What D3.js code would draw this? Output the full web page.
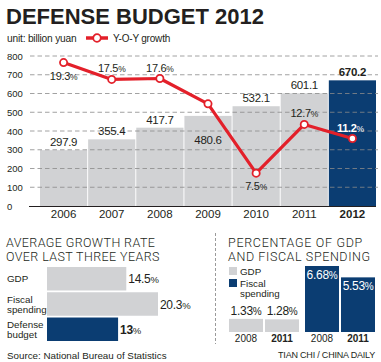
<!DOCTYPE html>
<html>
<head>
<meta charset="utf-8">
<script src="https://cdn.jsdelivr.net/npm/d3@7"></script>
<style>
  body { margin: 0; background: #fff; }
  svg { display: block; font-family: "Liberation Sans", Arial, sans-serif; }
</style>
</head>
<body>
<svg id="chart" width="381" height="362"></svg>
<script>
"use strict";

// main chart
var years = ["2006", "2007", "2008", "2009", "2010", "2011", "2012"],
    budget = [297.9, 355.4, 417.7, 480.6, 532.1, 601.1, 670.2],
    growth = [19.3, 17.5, 17.6, 14.9, 7.5, 12.7, 11.2],
    growthLabels = ["19.3", "17.5", "17.6", "", "7.5", "12.7", "11.2"],
    yTicks = [0, 100, 200, 300, 400, 500, 600, 700, 800];

// average growth rate panel
var avgCats = ["GDP", "Fiscal spending", "Defense budget"],
    avgValues = [14.5, 20.3, 13];

// percentage panel
var pctGroups = ["GDP", "Fiscal spending"],
    pctYears = ["2008", "2011"],
    pctGDP = [1.33, 1.28],
    pctFiscal = [6.68, 5.53];

var GREY = "#d1d2d4",
    NAVY = "#0b3d72",
    RED = "#e3202a",
    INK = "#231f20";

var svg = d3.select("#chart");

// title
svg.append("text")
    .attr("x", 6).attr("y", 24)
    .attr("font-size", 22).attr("font-weight", 900)
    .attr("fill", INK)
    .text("DEFENSE BUDGET 2012");

svg.append("text")
    .attr("x", 7).attr("y", 42)
    .attr("font-size", 10.2).attr("letter-spacing", -0.2).attr("fill", INK)
    .text("unit: billion yuan");

// legend for the line
var lg = svg.append("g").attr("transform", "translate(86,38)");
lg.append("line").attr("x1", 0).attr("x2", 22)
    .attr("stroke", RED).attr("stroke-width", 3.5);
lg.append("circle").attr("cx", 11).attr("r", 3.8)
    .attr("fill", "#fff").attr("stroke", RED).attr("stroke-width", 1.8);
lg.append("text").attr("x", 27).attr("y", 4)
    .attr("font-size", 10).attr("letter-spacing", -0.2).attr("fill", INK)
    .text("Y-O-Y growth");

var x = d3.scaleBand().domain(years).range([40, 376]).paddingInner(0.02),
    y = d3.scaleLinear().domain([0, 800]).range([206, 56]),
    gy = d3.scaleLinear().domain([4, 20]).range([y(0), y(800)]);

function cx(i) { return x(years[i]) + x.bandwidth() / 2; }

// y labels
svg.append("g").selectAll("text")
    .data(yTicks)
    .join("text")
    .attr("x", 7).attr("y", function (d) { return y(d) + 3.5; })
    .attr("font-size", 9.5).attr("fill", INK)
    .text(function (d) { return d; });

// bars
svg.append("g").selectAll("rect")
    .data(budget)
    .join("rect")
    .attr("x", function (d, i) { return x(years[i]); })
    .attr("y", function (d) { return y(d); })
    .attr("width", x.bandwidth())
    .attr("height", function (d) { return y(0) - y(d); })
    .attr("fill", function (d, i) { return i === years.length - 1 ? NAVY : GREY; });

// dashed grid on top of bars
svg.append("g").selectAll("line")
    .data(yTicks.filter(function (d) { return d > 0; }))
    .join("line")
    .attr("x1", 30).attr("x2", 378)
    .attr("y1", function (d) { return y(d); })
    .attr("y2", function (d) { return y(d); })
    .attr("stroke", "#8a8a8a").attr("stroke-width", 0.8)
    .attr("stroke-dasharray", "4.5,3");

svg.append("line")
    .attr("x1", 29).attr("x2", 376)
    .attr("y1", y(0) + 0.5).attr("y2", y(0) + 0.5)
    .attr("stroke", INK).attr("stroke-width", 1.2);

// year labels
svg.append("g").selectAll("text")
    .data(years)
    .join("text")
    .attr("x", function (d, i) { return cx(i); })
    .attr("y", 218)
    .attr("text-anchor", "middle")
    .attr("font-size", 11.5)
    .attr("font-weight", function (d, i) { return i === years.length - 1 ? "bold" : "normal"; })
    .attr("fill", INK)
    .text(function (d) { return d; });

// budget value labels (2009 sits inside the bar, under the line)
svg.append("g").selectAll("text")
    .data(budget)
    .join("text")
    .attr("x", function (d, i) { return cx(i); })
    .attr("y", function (d, i) { return i === 3 ? y(d) + 28 : y(d) - 4; })
    .attr("text-anchor", "middle")
    .attr("font-size", 11.5)
    .attr("letter-spacing", -0.3)
    .attr("font-weight", function (d, i) { return i === years.length - 1 ? "bold" : "normal"; })
    .attr("fill", INK)
    .text(function (d) { return d.toFixed(1); });

// growth line
var line = d3.line()
    .x(function (d, i) { return cx(i); })
    .y(function (d) { return gy(d); });

svg.append("path")
    .datum(growth)
    .attr("d", line)
    .attr("fill", "none")
    .attr("stroke", RED)
    .attr("stroke-width", 3.2)
    .attr("stroke-linejoin", "round");

svg.append("g").selectAll("circle")
    .data(growth)
    .join("circle")
    .attr("cx", function (d, i) { return cx(i); })
    .attr("cy", function (d) { return gy(d); })
    .attr("r", 3.6)
    .attr("fill", "#fff")
    .attr("stroke", RED)
    .attr("stroke-width", 1.8);

// growth labels (2009 has none in the original)
var below = [true, false, false, false, true, false, false];
var labelled = growth.map(function (g, i) { return { g: g, i: i }; })
    .filter(function (d) { return growthLabels[d.i] !== ""; });

svg.append("g").selectAll("text")
    .data(labelled)
    .join("text")
    .attr("x", function (d) { return cx(d.i) - (d.i === 6 ? 2 : 0); })
    .attr("y", function (d) { return below[d.i] ? gy(d.g) + 17 : gy(d.g) - 7; })
    .attr("text-anchor", "middle")
    .attr("font-size", 11)
    .attr("letter-spacing", -0.3)
    .attr("font-weight", function (d) { return d.i === 6 ? "bold" : "normal"; })
    .attr("fill", function (d) { return d.i === 6 ? "#fff" : INK; })
    .each(function (d) {
        var t = d3.select(this);
        t.append("tspan").text(growthLabels[d.i]);
        t.append("tspan").attr("font-size", 8.5).attr("font-weight", "normal").text("%");
    });

// divider
svg.append("line")
    .attr("x1", 215.5).attr("x2", 215.5)
    .attr("y1", 233).attr("y2", 344)
    .attr("stroke", "#9a9a9a").attr("stroke-dasharray", "3,2");

// ---- panel headings
var head = svg.append("g")
    .attr("font-family", "Roboto, 'Liberation Sans', sans-serif")
    .attr("font-weight", 300)
    .attr("font-size", 12.5)
    .attr("letter-spacing", 0.4)
    .attr("fill", INK);
head.append("text").attr("x", 6).attr("y", 247).text("AVERAGE GROWTH RATE");
head.append("text").attr("x", 6).attr("y", 261).text("OVER LAST THREE YEARS");
head.append("text").attr("x", 228).attr("y", 247).attr("letter-spacing", 0.7).text("PERCENTAGE OF GDP");
head.append("text").attr("x", 228).attr("y", 261).attr("letter-spacing", 0.6).text("AND FISCAL SPENDING");

// ---- average growth rate panel
var ay = d3.scaleBand().domain(avgCats).range([267, 341]).paddingInner(0.07),
    ax = d3.scaleLinear().domain([0, 20.3]).range([47, 158]);

svg.append("g").selectAll("rect")
    .data(avgValues)
    .join("rect")
    .attr("x", ax(0))
    .attr("y", function (d, i) { return ay(avgCats[i]); })
    .attr("width", function (d) { return ax(d) - ax(0); })
    .attr("height", ay.bandwidth())
    .attr("fill", function (d, i) { return i === 2 ? NAVY : GREY; });

var av = svg.append("g").selectAll("text")
    .data(avgValues)
    .join("text")
    .attr("x", function (d) { return ax(d) + 2; })
    .attr("y", function (d, i) { return ay(avgCats[i]) + ay.bandwidth() / 2 + 4.5; })
    .attr("font-size", 12)
    .attr("letter-spacing", -0.3)
    .attr("font-weight", function (d, i) { return i === 2 ? "bold" : "normal"; })
    .attr("fill", INK);
av.append("tspan").text(function (d) { return d; });
av.append("tspan").attr("font-size", 9.5).attr("font-weight", "normal").text("%");

svg.append("g").selectAll("text")
    .data(avgCats)
    .join("text")
    .attr("x", 7)
    .attr("y", function (d) {
        var n = d.split(" ").length;
        return ay(d) + ay.bandwidth() / 2 + 3.5 - (n - 1) * 5;
    })
    .attr("font-size", 9.8)
    .attr("fill", INK)
    .each(function (d) {
        var t = d3.select(this);
        d.split(" ").forEach(function (w, k) {
            t.append("tspan").attr("x", 7).attr("dy", k ? 10.5 : 0).text(w);
        });
    });

svg.append("text")
    .attr("x", 7).attr("y", 359)
    .attr("font-size", 9.8).attr("fill", INK)
    .text("Source: National Bureau of Statistics");

// ---- percentage panel
var legendItems = [{ label: ["GDP"], color: GREY }, { label: ["Fiscal", "spending"], color: NAVY }];
var le = svg.append("g").selectAll("g")
    .data(legendItems)
    .join("g")
    .attr("transform", function (d, i) { return "translate(229," + (267 + i * 12) + ")"; });
le.append("rect").attr("width", 8).attr("height", 8).attr("fill", function (d) { return d.color; });
le.append("text").attr("x", 11).attr("y", 7.5)
    .attr("font-size", 9.8).attr("fill", INK)
    .each(function (d) {
        var t = d3.select(this);
        d.label.forEach(function (w, k) {
            t.append("tspan").attr("x", 11).attr("dy", k ? 10.5 : 0).text(w);
        });
    });

var px0 = d3.scaleBand().domain(pctGroups).range([229, 375]).paddingInner(0.079),
    px1 = d3.scaleBand().domain(pctYears).range([0, px0.bandwidth()]).paddingInner(0.056),
    py = d3.scaleLinear().domain([0, 6.68]).range([332, 266]);

var pctSeries = [pctGDP, pctFiscal];
pctGroups.forEach(function (g, gi) {
    var grp = svg.append("g").attr("transform", "translate(" + px0(g) + ",0)");
    grp.selectAll("rect")
        .data(pctSeries[gi])
        .join("rect")
        .attr("x", function (d, i) { return px1(pctYears[i]); })
        .attr("y", function (d) { return py(d); })
        .attr("width", px1.bandwidth())
        .attr("height", function (d) { return py(0) - py(d); })
        .attr("fill", gi ? NAVY : GREY);
    var lbl = grp.selectAll("text.v")
        .data(pctSeries[gi])
        .join("text")
        .attr("class", "v")
        .attr("x", function (d, i) { return px1(pctYears[i]) + px1.bandwidth() / 2; })
        .attr("y", function (d) { return gi ? py(d) + 13 : py(d) - 4; })
        .attr("text-anchor", "middle")
        .attr("font-size", 12)
        .attr("letter-spacing", -0.3)
        .attr("fill", gi ? "#fff" : INK);
    lbl.append("tspan").text(function (d) { return d.toFixed(2); });
    lbl.append("tspan").attr("font-size", 10).text("%");
    grp.selectAll("text.yr")
        .data(pctYears)
        .join("text")
        .attr("class", "yr")
        .attr("x", function (d) { return px1(d) + px1.bandwidth() / 2; })
        .attr("y", 342)
        .attr("text-anchor", "middle")
        .attr("font-size", 10)
        .attr("font-weight", function (d, i) { return i === 1 ? "bold" : "normal"; })
        .attr("fill", INK)
        .text(function (d) { return d; });
});

svg.append("text")
    .attr("x", 375).attr("y", 358)
    .attr("text-anchor", "end")
    .attr("font-size", 9)
    .attr("letter-spacing", -0.2)
    .attr("fill", INK)
    .text("TIAN CHI / CHINA DAILY");
</script>
</body>
</html>
